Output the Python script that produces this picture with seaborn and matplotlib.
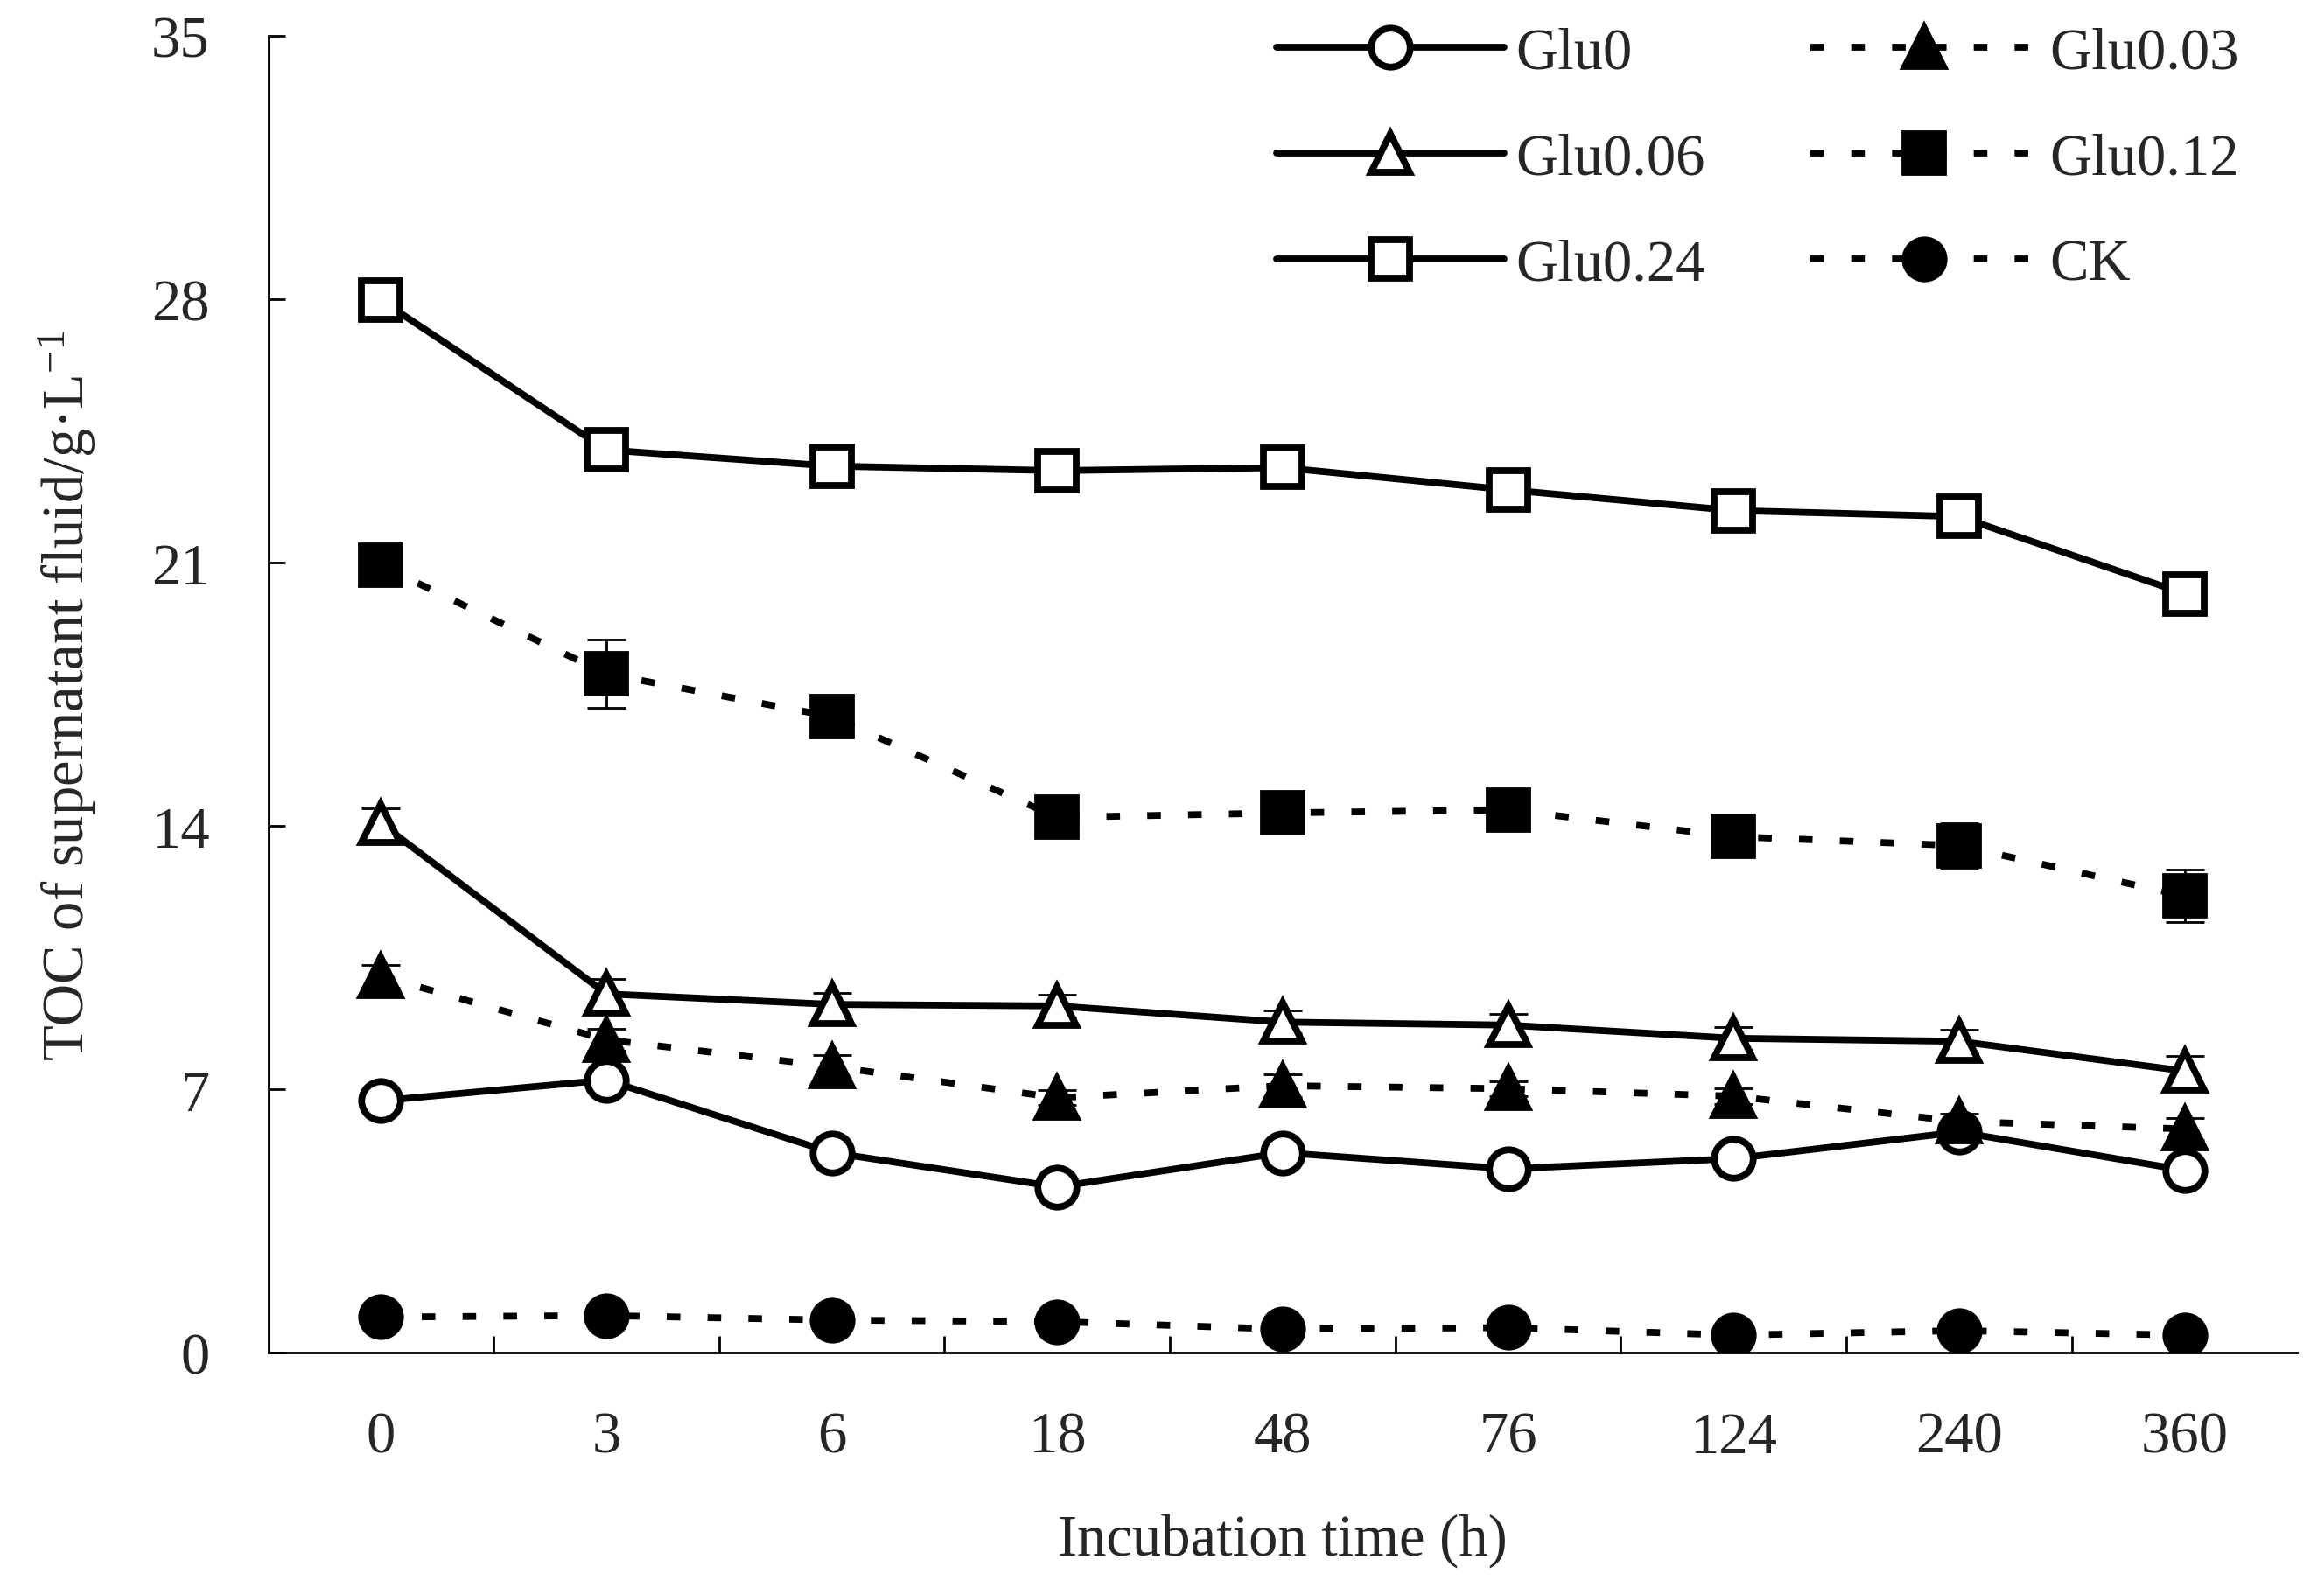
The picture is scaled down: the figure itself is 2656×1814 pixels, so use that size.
import numpy as np
import pandas as pd
import matplotlib
matplotlib.use("Agg")
import matplotlib.pyplot as plt
import seaborn as sns

# data
times = ["0", "3", "6", "18", "48", "76", "124", "240", "360"]

glu0 = [6.70, 7.25, 5.32, 4.41, 5.32, 4.89, 5.16, 5.87, 4.85]
glu003 = [10.01, 8.32, 7.61, 6.78, 7.10, 7.02, 6.82, 6.15, 5.95]
glu006 = [14.07, 9.54, 9.26, 9.22, 8.79, 8.71, 8.36, 8.28, 7.49]
glu012 = [20.93, 18.05, 16.91, 14.23, 14.35, 14.43, 13.72, 13.48, 12.14]
glu024 = [27.98, 24.00, 23.57, 23.45, 23.53, 22.94, 22.39, 22.23, 20.18]
ck = [0.95, 0.99, 0.87, 0.83, 0.63, 0.67, 0.47, 0.59, 0.47]

err_glu0 = [0.2, 0.2, 0.2, 0.2, 0.2, 0.2, 0.2, 0.2, 0.2]
err_glu003 = [0.3, 0.3, 0.3, 0.2, 0.3, 0.2, 0.2, 0.2, 0.3]
err_glu006 = [0.4, 0.4, 0.3, 0.3, 0.3, 0.3, 0.3, 0.3, 0.4]
err_glu012 = [0.5, 0.9, 0.4, 0.3, 0.4, 0.4, 0.4, 0.6, 0.7]
err_glu024 = [0.2, 0.4, 0.3, 0.2, 0.3, 0.3, 0.3, 0.3, 0.3]
err_ck = [0.1, 0.1, 0.1, 0.1, 0.1, 0.1, 0.1, 0.1, 0.1]

sns.set_style("white")
plt.rcParams["font.family"] = ["Liberation Serif", "DejaVu Serif"]
plt.rcParams["mathtext.fontset"] = "custom"
plt.rcParams["mathtext.rm"] = "Liberation Serif"
plt.rcParams["mathtext.it"] = "Liberation Serif:italic"

fig = plt.figure(figsize=(13.28, 9.075), dpi=200)
ax = fig.add_axes([0.1154, 0.1475, 0.8731, 0.8292])

x = np.arange(len(times))
solid = "-"
dotted = (0, (2, 4))

# name, values, errors, marker, filled, linestyle
series = [
    ("Glu0", glu0, err_glu0, "o", False, solid),
    ("Glu0.06", glu006, err_glu006, "^", False, solid),
    ("Glu0.24", glu024, err_glu024, "s", False, solid),
    ("Glu0.03", glu003, err_glu003, "^", True, dotted),
    ("Glu0.12", glu012, err_glu012, "s", True, dotted),
    ("CK", ck, err_ck, "o", True, dotted),
]

handles = []
for name, vals, err, mk, filled, ls in series:
    ax.errorbar(x, vals, yerr=err, fmt="none", ecolor="black",
                elinewidth=1.0, capsize=8, capthick=1.0, zorder=2)
    df = pd.DataFrame({"x": x, "y": vals})
    n_before = len(ax.lines)
    sns.lineplot(data=df, x="x", y="y", ax=ax, color="black",
                 marker=mk, markersize=16,
                 markerfacecolor="black" if filled else "white",
                 markeredgecolor="black", markeredgewidth=2.8,
                 linewidth=2.8, linestyle=ls, zorder=3)
    line = ax.lines[n_before]
    line.set_linestyle(ls)
    line.set_label(name)
    handles.append(line)

ax.set_xlim(-0.5, len(times) - 0.5)
ax.set_ylim(0, 35)
ax.set_yticks([0, 7, 14, 21, 28, 35])
ax.set_xticks(x)
ax.set_xticklabels(times)
ax.set_xticks(np.arange(0.5, len(times) - 1, 1.0), minor=True)

ax.tick_params(axis="x", which="major", length=0, pad=24, labelsize=24)
ax.tick_params(axis="x", which="minor", direction="in", length=7,
               width=1.0, color="black", bottom=True)
ax.tick_params(axis="y", which="major", direction="in", length=7,
               width=1.0, color="black", pad=24, labelsize=24, left=True)

for s in ["top", "right"]:
    ax.spines[s].set_visible(False)
for s in ["left", "bottom"]:
    ax.spines[s].set_color("black")
    ax.spines[s].set_linewidth(1.0)

ax.set_xlabel("Incubation time (h)", fontsize=24, labelpad=20)
ax.set_ylabel("TOC of supernatant fluid/g·L$^{-1}$", fontsize=24, labelpad=22)

ax.legend(handles=handles, ncol=2, loc="upper right", frameon=False,
          fontsize=24, handlelength=3.9, handletextpad=0.2,
          columnspacing=1.8, labelspacing=0.9,
          bbox_to_anchor=(0.997, 1.047))

fig.savefig("out.png", dpi=200, facecolor="white")
